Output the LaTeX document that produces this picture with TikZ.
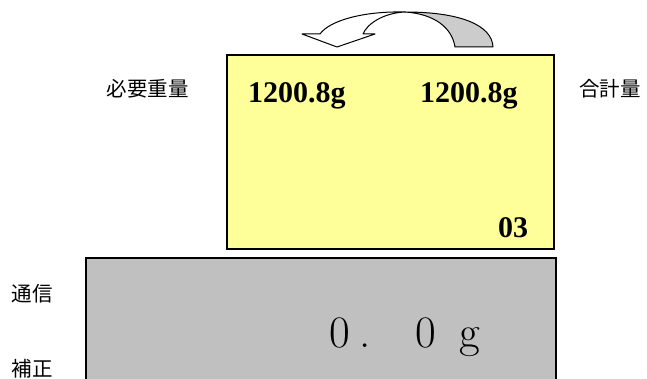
\documentclass[tikz,border=0pt]{standalone}
\usepackage{fontspec}
\usepackage{xcolor}
\usepackage{tikz}
\newfontfamily\jpfont{Noto Sans CJK JP}
\newfontfamily\numfont{Liberation Serif}
\definecolor{dispyellow}{HTML}{FFFF99}
\definecolor{dispgrey}{HTML}{C0C0C0}
\definecolor{arrowgrey}{HTML}{CCCCCC}
\tikzset{
	panel/.style={draw=black, line width=1.5pt},
	jplabel/.style={font=\jpfont\fontsize{20.5}{24}\selectfont, inner sep=0pt},
	weight/.style={font=\numfont\bfseries\fontsize{30}{34}\selectfont, inner sep=0pt, anchor=base west},
	readout/.style={font=\fontsize{45}{50}\selectfont, inner sep=0pt, anchor=base west},
	swaparrow/.style={draw=black, line width=1pt, line join=round},
}

\begin{document}
\begin{tikzpicture}[x=1pt, y=-1pt]
			\useasboundingbox (0, 0) rectangle (647, 379);
			% Panels:
			\draw[panel, fill=dispyellow] (227, 55) rectangle (554, 249);
			\fill[dispgrey] (86, 258) rectangle (556, 385);
			\draw[panel] (86, 385) |- (556, 258) -- (556, 385);
			% Swap arrow:
			\draw[swaparrow, fill=white] (302, 34) -- (337, 47) -- (375, 34) -- (363, 34) .. controls (367, 24) and (383, 13) .. (405, 12) .. controls (365, 11) and (330, 20) .. (320, 34) -- cycle;
			\draw[swaparrow, fill=arrowgrey] (405, 12) .. controls (460, 12) and (492, 25) .. (493, 47) -- (455, 47) .. controls (452, 28) and (435, 14) .. (405, 12) -- cycle;
			% Weights:
			\node[weight](W1) at (248, 103){1200.8g};
			\node[weight](W2) at (420, 103){1200.8g};
			\node[weight](W3) at (498, 237){03};
			\node[readout](R1) at (329, 347){0\hspace{10pt}.\hspace{44pt}0\hspace{24pt}g};
			% Labels:
			\node[jplabel](L1) at (147.5, 89){必要重量};
			\node[jplabel](L2) at (610, 89){合計量};
			\node[jplabel](L3) at (32, 294){通信};
			\node[jplabel](L4) at (32, 369){補正};
		\end{tikzpicture}
\end{document}
